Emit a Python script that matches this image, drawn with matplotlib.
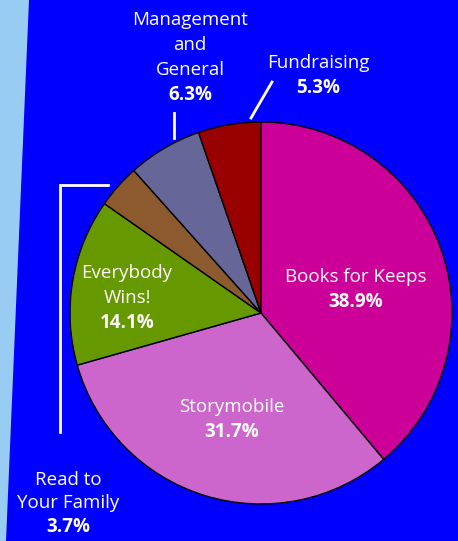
import matplotlib
matplotlib.use("Agg")
import matplotlib.pyplot as plt
from matplotlib.patches import Polygon

categories = ["Books for Keeps", "Storymobile", "Everybody\nWins!", "Read to\nYour Family",
              "Management\nand\nGeneral", "Fundraising"]
values = [38.9, 31.7, 14.1, 3.7, 6.3, 5.3]
pct_labels = ["38.9%", "31.7%", "14.1%", "3.7%", "6.3%", "5.3%"]
colors = ["#CC0099", "#CC66CC", "#669900", "#8C5A2E", "#666699", "#990000"]

W, H = 458, 541
fig = plt.figure(figsize=(W / 100, H / 100), dpi=100)
fig.patch.set_facecolor("#0000FF")
ax = fig.add_axes([0, 0, 1, 1])
ax.set_facecolor("#0000FF")

def Y(y):
    return H - y

# light blue strip on left
ax.add_patch(Polygon([(0, Y(0)), (29, Y(0)), (6, Y(H)), (0, Y(H))],
                     closed=True, facecolor="#99CCF2", edgecolor="none", zorder=0))

ax.pie(values, colors=colors, startangle=90, counterclock=False,
       center=(261, Y(313)), radius=191,
       wedgeprops=dict(edgecolor="black", linewidth=1.0))

ax.set_xlim(0, W)
ax.set_ylim(0, H)
ax.set_aspect("equal")
ax.axis("off")

font = ["Open Sans", "DejaVu Sans"]
fs = 13.5

# label positions (pixel coords of first line center) and line spacing
label_pos = [(356, 277), (232, 407), (127, 273), (68, 480), (190, 20), (318, 63)]
line_h = [25, 25, 25, 23.5, 25, 25]
for name, pct, (x, y), lh in zip(categories, pct_labels, label_pos, line_h):
    lines = name.split("\n")
    for i, ln in enumerate(lines):
        ax.text(x, Y(y + i * lh), ln, ha="center", va="center", color="white",
                fontsize=fs, family=font)
    ax.text(x, Y(y + len(lines) * lh), pct, ha="center", va="center", color="white",
            fontsize=fs, family=font, fontweight="bold")

# leader lines
lw = 2.0
ax.plot([108, 60, 60], [Y(185), Y(185), Y(432)], color="white", lw=lw,
        solid_joinstyle="miter", zorder=1)
ax.plot([174, 174], [Y(113), Y(138)], color="white", lw=lw)
ax.plot([251, 272], [Y(118), Y(82)], color="white", lw=lw)

fig.savefig("out.png", dpi=100, facecolor=fig.get_facecolor())
